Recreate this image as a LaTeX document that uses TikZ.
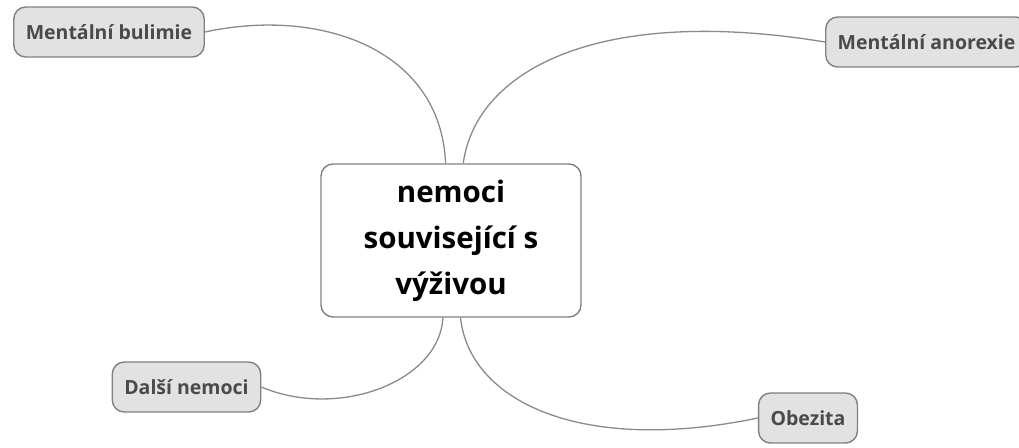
\documentclass[tikz,border=0pt]{standalone}
\usepackage{fontspec}
\setmainfont{Open Sans}
\definecolor{linegray}{HTML}{8A8A8A}
\definecolor{boxgray}{HTML}{808080}
\definecolor{leafgray}{HTML}{E2E2E2}
\definecolor{leaftext}{HTML}{4A4A4A}
\begin{document}
\begin{tikzpicture}[x=1pt,y=-1pt,
        hub/.style={draw=boxgray,line width=1.4pt,fill=white,rounded corners=12pt,
            minimum width=260pt,minimum height=153pt,align=center,
            font=\fontsize{29.5}{46}\selectfont\bfseries},
        leaf/.style={draw=boxgray,line width=1.4pt,fill=leafgray,rounded corners=12pt,
            minimum height=50pt,inner xsep=12pt,text=leaftext,
            font=\fontsize{19.5}{23}\selectfont\bfseries},
        branch/.style={draw=linegray,line width=1.3pt}]
        % fix the page
        \useasboundingbox (0,0) rectangle (1019,447);

        % the main topic
        \node[hub] (nutrition) at (451,240.5) {nemoci\\související s\\výživou};

        % the four subtopics
        \node[leaf] (bulimia) at (109,32) {Mentální bulimie};
        \node[leaf,anchor=west] (anorexia) at (825,42) {Mentální anorexie};
        \node[leaf] (other) at (186.5,387) {Další nemoci};
        \node[leaf] (obesity) at (808,418) {Obezita};

        % branches from the main topic
        \draw[branch] (nutrition.94.5) .. controls +(-5,-114) and +(116,-25) .. (bulimia.east);
        \draw[branch] (nutrition.81.8) .. controls +(13,-94) and +(-225,-37) .. (anorexia.west);
        \draw[branch] (nutrition.264) .. controls +(-3,63) and +(78,33) .. (other.east);
        \draw[branch] (nutrition.277.4) .. controls +(9,83) and +(-178,37) .. (obesity.west);
\end{tikzpicture}
\end{document}
